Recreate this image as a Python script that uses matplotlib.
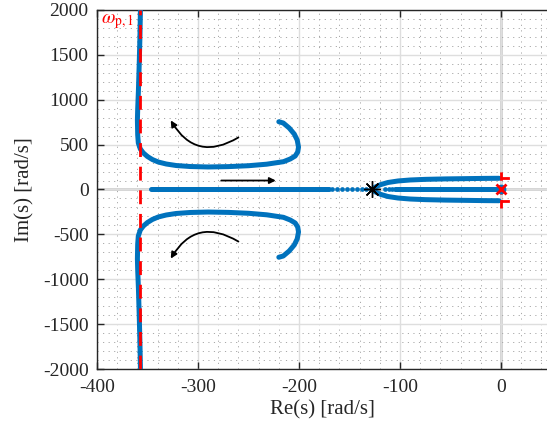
import matplotlib
matplotlib.use('Agg')
import matplotlib.pyplot as plt
from matplotlib.ticker import MultipleLocator

plt.rcParams['font.family'] = ['Liberation Serif', 'DejaVu Serif']
plt.rcParams['mathtext.fontset'] = 'stix'

# ---- data ----
# upper complex branch (asymptote at top -> bend -> end point)
upper_re = [-357.0, -357.5, -358.2, -359.0, -359.7, -360.0, -359.7, -359.1, -357.1,
            -354.1, -350.1, -345.2, -339.3, -331.4, -321.5, -307.6, -290.0, -270.0,
            -250.0, -232.0, -215.4, -208.7, -203.8, -201.3, -200.5, -201.8, -204.7,
            -209.7, -215.6, -220.0]
upper_im = [2000, 1700, 1400, 1100, 900, 774, 607, 518, 451,
            407, 368, 334, 306, 284, 267, 256, 251, 255,
            265, 282, 310, 340, 373, 418, 473, 551, 618,
            685, 741, 755]
lower_re = list(upper_re)
lower_im = [-v for v in upper_im]

# real-axis branch left of the breakaway point
real_left_re = [-347.0, -170.0]
real_left_dots = [-167.5, -162.5, -157.5, -152.5, -147.5, -142.8, -138.0, -134.0]

# branches right of the breakaway point
right_up_re = [-128, -124, -119, -112, -102, -90, -75, -55, -35, -15, -2]
right_up_im = [0, 30, 55, 78, 95, 106, 113, 118, 121, 124, 125]
right_lo_re = list(right_up_re)
right_lo_im = [-v for v in right_up_im]
real_mid_re = [-105.0, -4.0]
real_mid_dots = [-115.0, -111.0, -108.0]

breakaway = (-128.0, 0.0)
pole_line_re = -357.0
xticks = [-400, -300, -200, -100, 0]
yticks = [-2000, -1500, -1000, -500, 0, 500, 1000, 1500, 2000]

blue = '#0072BD'
red = '#FF0000'
dark = '#262626'

fig = plt.figure(figsize=(5.47, 4.37), dpi=100)
ax = fig.add_axes([97/547, (437-369)/437, 1 - 97/547, (369-10)/437])

ax.set_xlim(-400, 45.5)
ax.set_ylim(-2000, 2000)

# grid
ax.xaxis.set_minor_locator(MultipleLocator(20))
ax.yaxis.set_minor_locator(MultipleLocator(100))
ax.set_xticks(xticks)
ax.set_yticks(yticks)
ax.grid(True, which='major', color='#dedede', lw=1.0, zorder=0)
ax.grid(True, which='minor', color='#a8a8a8', lw=0.7, ls=(0, (1.2, 4.5)), zorder=0)
ax.set_axisbelow(True)

# zero lines
ax.axhline(0, color='#c8c8c8', lw=1.8, zorder=0.5)
ax.axvline(0, color='#c8c8c8', lw=1.8, zorder=0.5)

lw = 3.6
ax.plot(upper_re, upper_im, color=blue, lw=lw, solid_capstyle='round', zorder=3)
ax.plot(lower_re, lower_im, color=blue, lw=lw, solid_capstyle='round', zorder=3)
ax.plot(real_left_re, [0, 0], color=blue, lw=lw, solid_capstyle='round', zorder=3)
ax.plot(real_left_dots, [0]*len(real_left_dots), 'o', color=blue, ms=3.4, mew=0, zorder=3)
ax.plot(right_up_re, right_up_im, color=blue, lw=lw, solid_capstyle='round', zorder=3)
ax.plot(right_lo_re, right_lo_im, color=blue, lw=lw, solid_capstyle='round', zorder=3)
ax.plot(real_mid_re, [0, 0], color=blue, lw=lw, solid_capstyle='round', zorder=3)
ax.plot(real_mid_dots, [0]*len(real_mid_dots), 'o', color=blue, ms=3.4, mew=0, zorder=3)

# red pole line and markers
ax.axvline(pole_line_re, color=red, lw=2.0, ls=(0, (5, 3.5)), zorder=4)
ax.plot([0, 0], [-210, 210], color=red, lw=2.0, ls=(0, (3, 2)), zorder=4)
ax.plot([1, 7], [133, 133], color=red, lw=2.0, zorder=4)
ax.plot([1, 7], [-133, -133], color=red, lw=2.0, zorder=4)
ax.plot([0], [0], 'o', color=blue, ms=7, mew=0, zorder=5)
ax.plot([0], [0], 'x', color=red, ms=7, mew=2.0, zorder=6)

# breakaway point
ax.plot([breakaway[0]], [breakaway[1]], marker=(8, 2, 0), color='black', ms=12, mew=1.0, zorder=7)

# arrows
ap = dict(arrowstyle='-|>', color='black', lw=1.3, mutation_scale=9, shrinkA=0, shrinkB=0)
ax.annotate('', xy=(-327, 770), xytext=(-260, 580),
            arrowprops=dict(ap, connectionstyle='arc3,rad=-0.5'), zorder=8)
ax.annotate('', xy=(-327, -770), xytext=(-260, -580),
            arrowprops=dict(ap, connectionstyle='arc3,rad=0.5'), zorder=8)
ax.annotate('', xy=(-223, 100), xytext=(-277, 100),
            arrowprops=dict(ap), zorder=8)

ax.text(-396, 1870, r'$\omega_{\rm p,1}$', color=red, fontsize=14, va='center', ha='left')

# axes styling
for s in ['left', 'bottom', 'top']:
    ax.spines[s].set_color(dark)
    ax.spines[s].set_linewidth(1.0)
ax.spines['right'].set_visible(False)
ax.tick_params(which='major', direction='in', length=5, width=1.0, top=True, right=False,
               labelsize=14, colors=dark)
ax.tick_params(axis='x', which='major', pad=7)
ax.tick_params(axis='y', which='major', pad=6)
ax.tick_params(which='minor', length=0)
ax.set_xticklabels([str(t) for t in xticks])
ax.set_yticklabels([str(t) for t in yticks])
ax.set_xlabel('Re(s) [rad/s]', fontsize=15, color=dark, labelpad=3)
ax.set_ylabel('Im(s) [rad/s]', fontsize=15, color=dark, labelpad=6)

fig.savefig('out.png', dpi=100)
